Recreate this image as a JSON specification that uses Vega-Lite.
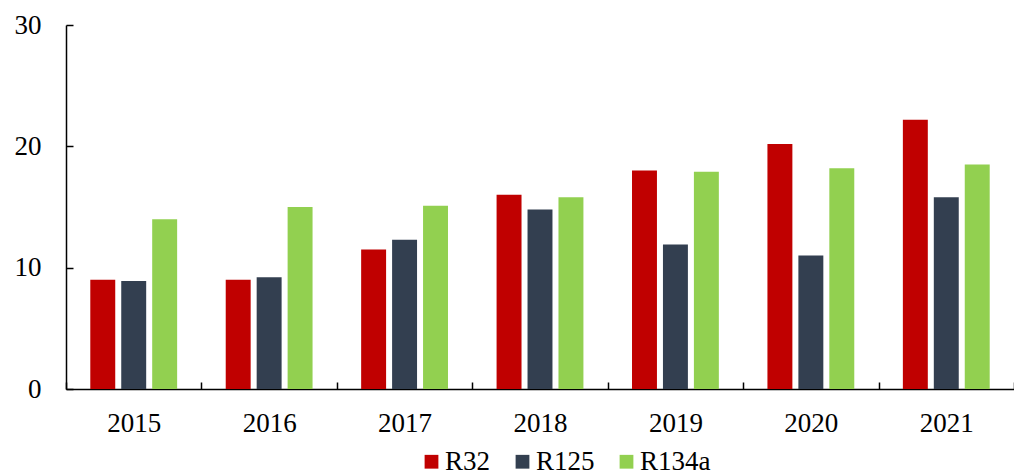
{
  "$schema": "https://vega.github.io/schema/vega-lite/v6.json",
  "width": 948,
  "height": 364,
  "autosize": {"type": "none"},
  "padding": {"left": 66, "top": 25, "right": 0, "bottom": 87},
  "background": "white",
  "data": {"values": [
    {"year": "2015", "type": "R32", "value": 9.0},
    {"year": "2015", "type": "R125", "value": 8.9},
    {"year": "2015", "type": "R134a", "value": 14.0},
    {"year": "2016", "type": "R32", "value": 9.0},
    {"year": "2016", "type": "R125", "value": 9.2},
    {"year": "2016", "type": "R134a", "value": 15.0},
    {"year": "2017", "type": "R32", "value": 11.5},
    {"year": "2017", "type": "R125", "value": 12.3},
    {"year": "2017", "type": "R134a", "value": 15.1},
    {"year": "2018", "type": "R32", "value": 16.0},
    {"year": "2018", "type": "R125", "value": 14.8},
    {"year": "2018", "type": "R134a", "value": 15.8},
    {"year": "2019", "type": "R32", "value": 18.0},
    {"year": "2019", "type": "R125", "value": 11.9},
    {"year": "2019", "type": "R134a", "value": 17.9},
    {"year": "2020", "type": "R32", "value": 20.2},
    {"year": "2020", "type": "R125", "value": 11.0},
    {"year": "2020", "type": "R134a", "value": 18.2},
    {"year": "2021", "type": "R32", "value": 22.2},
    {"year": "2021", "type": "R125", "value": 15.8},
    {"year": "2021", "type": "R134a", "value": 18.5}
  ]},
  "mark": {"type": "bar"},
  "encoding": {
    "x": {
      "field": "year", "type": "nominal",
      "scale": {"paddingInner": 0, "paddingOuter": 0},
      "axis": {
        "title": null, "labelAngle": 0, "tickBand": "extent",
        "domainColor": "#000000", "domainWidth": 1.5,
        "tickColor": "#000000", "tickWidth": 1.5, "tickSize": -7,
        "labelFont": "Liberation Serif", "labelFontSize": 27, "labelColor": "#000000",
        "labelPadding": 28
      }
    },
    "xOffset": {
      "field": "type", "type": "nominal", "sort": ["R32", "R125", "R134a"],
      "scale": {"paddingInner": 0.194, "paddingOuter": 0.785}
    },
    "y": {
      "field": "value", "type": "quantitative",
      "scale": {"domain": [0, 30], "nice": false},
      "axis": {
        "title": null, "values": [0, 10, 20, 30], "grid": false,
        "domainColor": "#000000", "domainWidth": 1.5,
        "tickColor": "#000000", "tickWidth": 1.5, "tickSize": -7,
        "labelFont": "Liberation Serif", "labelFontSize": 27, "labelColor": "#000000",
        "labelPadding": 32
      }
    },
    "color": {
      "field": "type", "type": "nominal", "sort": ["R32", "R125", "R134a"],
      "scale": {"domain": ["R32", "R125", "R134a"], "range": ["#C00000", "#333F50", "#92D050"]},
      "legend": {
        "title": null, "orient": "none", "direction": "horizontal",
        "legendX": 352, "legendY": 423, "padding": 0,
        "symbolType": "square", "symbolSize": 190, "symbolStrokeWidth": 0,
        "labelFont": "Liberation Serif", "labelFontSize": 27, "labelColor": "#000000",
        "labelOffset": 0, "columnPadding": 18
      }
    }
  },
  "config": {
    "view": {"stroke": null},
    "legend": {"labelFont": "Liberation Serif", "labelFontSize": 27}
  }
}
